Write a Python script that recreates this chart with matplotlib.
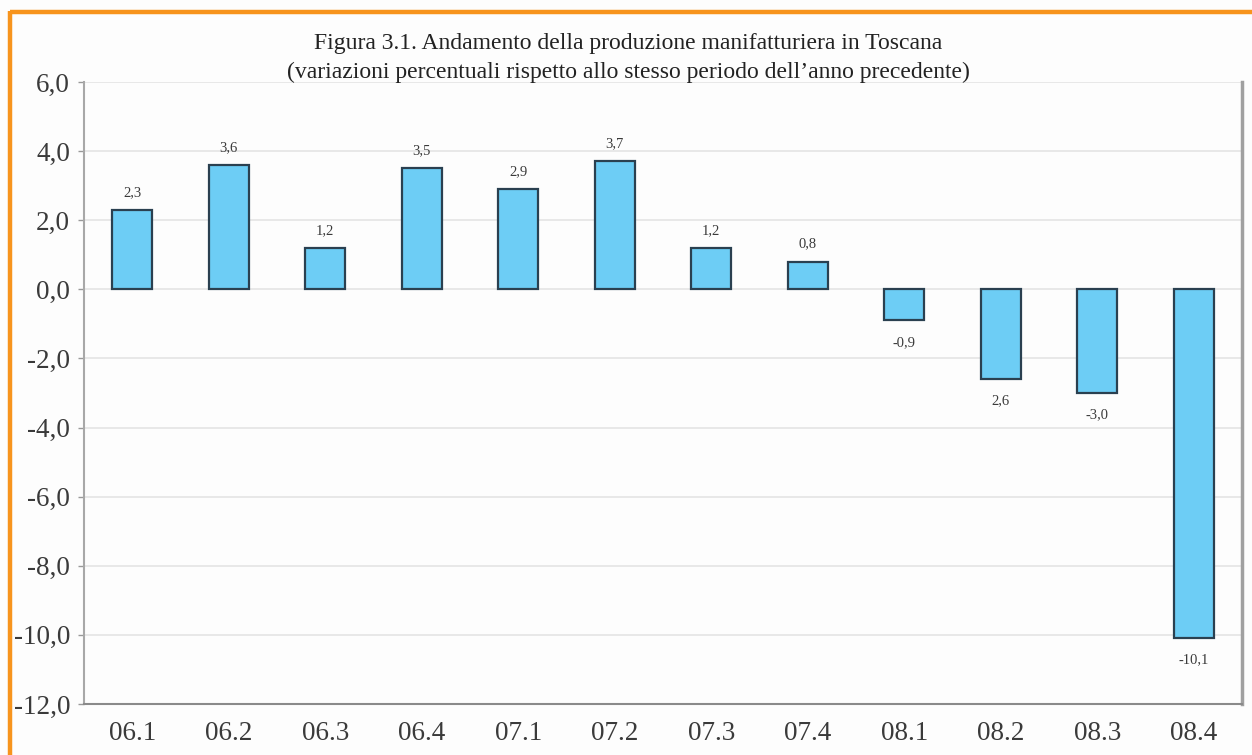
import matplotlib
matplotlib.use("Agg")
import matplotlib.pyplot as plt
from matplotlib.lines import Line2D

categories = ["06.1", "06.2", "06.3", "06.4", "07.1", "07.2", "07.3", "07.4",
              "08.1", "08.2", "08.3", "08.4"]
values = [2.3, 3.6, 1.2, 3.5, 2.9, 3.7, 1.2, 0.8, -0.9, -2.6, -3.0, -10.1]
value_labels = ["2,3", "3,6", "1,2", "3,5", "2,9", "3,7", "1,2", "0,8",
                "-0,9", "2,6", "-3,0", "-10,1"]
yticks = [6, 4, 2, 0, -2, -4, -6, -8, -10, -12]
ytick_labels = ["6,0", "4,0", "2,0", "0,0", "-2,0", "-4,0", "-6,0", "-8,0", "-10,0", "-12,0"]
title_lines = ["Figura 3.1. Andamento della produzione manifatturiera in Toscana",
               "(variazioni percentuali rispetto allo stesso periodo dell\u2019anno precedente)"]

plt.rcParams['font.family'] = ['Liberation Serif', 'DejaVu Serif']

fig = plt.figure(figsize=(12.52, 7.55), dpi=100, facecolor="#fdfdfd")
ax = fig.add_axes([84/1252, 1 - 704/755, (1242-84)/1252, (704-82)/755])
ax.set_facecolor("#fdfdfd")

x = list(range(len(categories)))
ax.bar(x, values, width=0.41, color="#6dcdf5", edgecolor="#2a4050", linewidth=1.6, zorder=3)

for xi, v, lab in zip(x, values, value_labels):
    if v >= 0:
        ax.annotate(lab, (xi, v), xytext=(0, 8), textcoords="offset points",
                    ha="center", va="bottom", fontsize=10.5, color="#3a3a3a")
    else:
        ax.annotate(lab, (xi, v), xytext=(0, -11), textcoords="offset points",
                    ha="center", va="top", fontsize=10.5, color="#3a3a3a")

ax.set_xlim(-0.5, len(categories) - 0.5)
ax.set_ylim(-12, 6)
ax.set_yticks(yticks)
ax.set_yticklabels(ytick_labels, fontsize=19.5, color="#3a3a3a")
ax.set_xticks(x)
ax.set_xticklabels(categories, fontsize=19.5, color="#3a3a3a")
ax.tick_params(axis="x", length=0, pad=12)
ax.tick_params(axis="y", length=4, width=1, color="#999999", pad=6)
ax.grid(axis="y", color="#e8e8e8", linewidth=1.4, zorder=0)

ax.spines["top"].set_visible(False)
ax.spines["left"].set_color("#a8a8a8")
ax.spines["left"].set_linewidth(1.5)
ax.spines["bottom"].set_color("#8a8a8a")
ax.spines["bottom"].set_linewidth(1.5)
ax.spines["right"].set_color("#a0a0a0")
ax.spines["right"].set_linewidth(2.5)

fig.text(628/1252, 1 - 44/755, title_lines[0], ha="center", va="center", fontsize=17, color="#222222")
fig.text(628/1252, 1 - 72/755, title_lines[1], ha="center", va="center", fontsize=17, color="#222222")

# orange frame (top and left edges)
fig.add_artist(Line2D([9.5/1252, 1.0], [1 - 12/755, 1 - 12/755], transform=fig.transFigure,
                      color="#f7941d", linewidth=3.2, solid_capstyle="butt"))
fig.add_artist(Line2D([9.5/1252, 9.5/1252], [0, 1 - 10.5/755], transform=fig.transFigure,
                      color="#f7941d", linewidth=3.2, solid_capstyle="butt"))

fig.savefig("out.png", dpi=100, facecolor=fig.get_facecolor())
